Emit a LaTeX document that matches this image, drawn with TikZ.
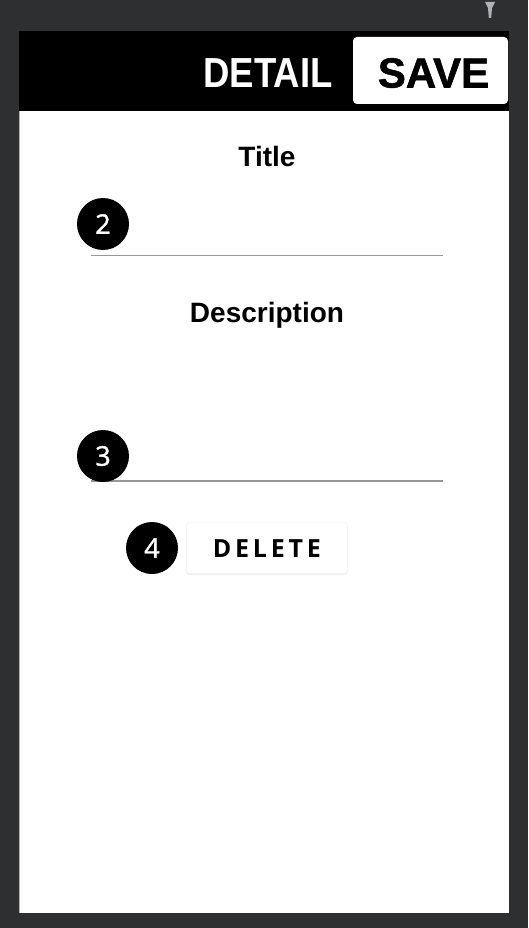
\documentclass[tikz,border=0pt]{standalone}
\usepackage{fontspec}
\usetikzlibrary{positioning,shadows}
\setmainfont{Liberation Sans}
\newfontfamily\barfont[FakeStretch=0.87]{Liberation Sans}
\newfontfamily\savefont[FakeBold=1.2]{Liberation Sans}
\newfontfamily\numfont[FakeBold=1.5]{Open Sans}
\newfontfamily\btnfont[LetterSpace=15]{Open Sans}
\definecolor{frame}{RGB}{45,47,49}
\definecolor{rule}{RGB}{150,150,150}
\definecolor{pincolor}{RGB}{175,177,180}

\begin{document}
\begin{tikzpicture}[
x=1pt, y=-1pt,
marker/.style={
  circle,
  fill=black,
  text=white,
  minimum size=52pt,
  inner sep=0pt,
  font=\numfont\fontsize{27}{27}\selectfont
  },
label/.style={
  inner sep=0pt,
  font=\bfseries\fontsize{28}{28}\selectfont
  },
button/.style={
  rounded corners=3pt,
  fill=white,
  draw=black!6,
  minimum width=161pt,
  minimum height=51pt,
  inner sep=0pt,
  drop shadow={opacity=0.12, shadow xshift=0pt, shadow yshift=-1.5pt}
  },
field/.style={
  draw=rule,
  line width=1.4pt
  }
]
\useasboundingbox (0,0) rectangle (528,928);
\fill[frame] (0,0) rectangle (528,928);

% screen
\fill[white] (19,111) rectangle (509,913);
\draw[black!30, line width=0.8pt] (19.4,111) -- (19.4,913);
\fill[black] (19,31) rectangle (509,111);

% pin on the frame
\fill[pincolor] (485,2) -- (495,2) -- (492,8) -- (491.2,18) -- (488.8,18) -- (488,8) -- cycle;

% action bar
\node[fill=white, rounded corners=4pt, minimum width=155pt, minimum height=67pt,
  inner sep=0pt] (savebox) at (430.5,70.5) {};
\node[inner sep=0pt, anchor=base, font=\savefont\bfseries\fontsize{42}{42}\selectfont] (save)
  at (433.5,87.5) {SAVE};
\node[inner sep=0pt, text=white, anchor=base east,
  font=\barfont\bfseries\fontsize{42}{42}\selectfont] (detail)
  at (333,87.5) {DETAIL};

% title field
\node[label, anchor=base] (title) at (267,167) {Title};
\coordinate (t1) at (91,255.5);
\coordinate (t2) at (443,255.5);
\draw[field] (t1) -- (t2);
\node[marker] (m2) at (103,224) {2};

% description field
\node[label, anchor=base] (desc) at (267,322) {Description};
\coordinate (d1) at (91,481);
\coordinate (d2) at (443,481);
\draw[field] (d1) -- (d2);
\node[marker] (m3) at (103,456) {3};

% delete button
\node[marker] (m4) at (152,548) {4};
\node[button, right=8pt of m4] (delete) {};
\node[inner sep=0pt, anchor=base, font=\btnfont\bfseries\fontsize{25}{25}\selectfont]
  (deltext) at ([yshift=-9pt]delete.center) {DELETE};

\end{tikzpicture}
\end{document}
